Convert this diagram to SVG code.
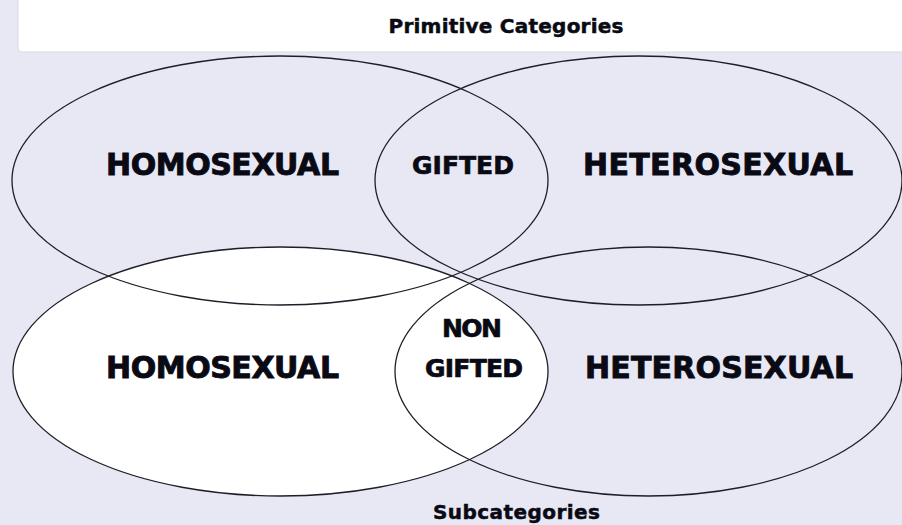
<svg xmlns="http://www.w3.org/2000/svg" width="902" height="525" viewBox="0 0 902 525">
  <style>
    .set { fill: none; stroke: #1e1e28; stroke-width: 1.3; }
    .big { font-family: "DejaVu Sans", "Liberation Sans", sans-serif; font-weight: bold; font-size: 30px; fill: #0a0a14; stroke: #0a0a14; stroke-width: 0.9; text-anchor: middle; }
    .mid { font-family: "DejaVu Sans", "Liberation Sans", sans-serif; font-weight: bold; font-size: 25px; fill: #0a0a14; stroke: #0a0a14; stroke-width: 0.7; text-anchor: middle; }
    .cap { font-family: "DejaVu Sans", "Liberation Sans", sans-serif; font-weight: bold; font-size: 20px; fill: #0a0a14; stroke: #0a0a14; stroke-width: 0.5; text-anchor: middle; }
  </style>
  <rect x="0" y="0" width="902" height="525" fill="#e8e8f5"/>
  <g id="title">
    <rect x="18" y="-6" width="892" height="58" rx="4" fill="#ffffff" stroke="#d9d9e2" stroke-width="1"/>
    <text class="cap" x="506" y="33" textLength="235">Primitive Categories</text>
  </g>
  <g id="sub-homosexual">
    <ellipse cx="280.5" cy="371.5" rx="267.5" ry="124.5" fill="#ffffff" stroke="none"/>
    <ellipse class="set" cx="280.5" cy="371.5" rx="267.5" ry="124.5"/>
    <text class="big" x="222.5" y="378" textLength="233">HOMOSEXUAL</text>
  </g>
  <g id="prim-homosexual">
    <ellipse class="set" cx="280" cy="180.5" rx="268" ry="124.5"/>
    <text class="big" x="222.5" y="175" textLength="233">HOMOSEXUAL</text>
  </g>
  <g id="prim-heterosexual">
    <ellipse class="set" cx="638.5" cy="180.5" rx="263.5" ry="124.5"/>
    <text class="big" x="718" y="175" textLength="270">HETEROSEXUAL</text>
  </g>
  <g id="sub-heterosexual">
    <ellipse class="set" cx="648.5" cy="371.5" rx="253.5" ry="124.5"/>
    <text class="big" x="719" y="378" textLength="268">HETEROSEXUAL</text>
  </g>
  <g id="gifted">
    <text class="mid" x="463" y="174" textLength="102">GIFTED</text>
  </g>
  <g id="non-gifted">
    <text class="mid" x="472" y="337" textLength="60">NON</text>
    <text class="mid" x="474" y="377" textLength="98">GIFTED</text>
  </g>
  <g id="subtitle">
    <text class="cap" x="516.5" y="519" textLength="167">Subcategories</text>
  </g>
</svg>
